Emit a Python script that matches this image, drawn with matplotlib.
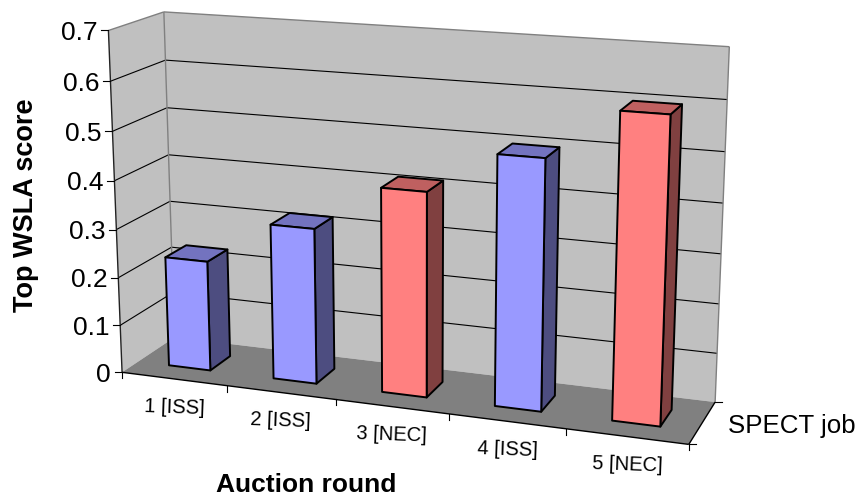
import numpy as np
import matplotlib
matplotlib.use("Agg")
import matplotlib.pyplot as plt
from matplotlib.patches import Polygon

plt.rcParams['font.family'] = ['Liberation Sans', 'DejaVu Sans']

rounds = ['1 [ISS]', '2 [ISS]', '3 [NEC]', '4 [ISS]', '5 [NEC]']
scores = [0.23, 0.32, 0.415, 0.50, 0.60]
owners = ['ISS', 'ISS', 'NEC', 'ISS', 'NEC']
yticks = [0, 0.1, 0.2, 0.3, 0.4, 0.5, 0.6, 0.7]
ytick_labels = ['0', '0.1', '0.2', '0.3', '0.4', '0.5', '0.6', '0.7']

# front, top, side shades for each owner
shades = {'ISS': ('#9999FF', '#7373BF', '#4D4D80'),
          'NEC': ('#FF8080', '#BF6060', '#804040')}

YMAX = 0.7
N = len(rounds)

# box corners on the canvas, used to solve the projection: (round, value, depth) -> (px, py)
anchors = [((0, 0, 0), (122.5, 372.3)),
           ((0, YMAX, 0), (108.3, 30.7)),
           ((0, YMAX, 1), (164.0, 11.7)),
           ((N, YMAX, 1), (729.3, 46.7)),
           ((N, 0, 1), (715.0, 402.3)),
           ((N, 0, 0), (689.0, 444.0)),
           ((1, 0, 0), (226.0, 385.7)),
           ((2, 0, 0), (335.7, 399.3)),
           ((3, 0, 0), (449.3, 414.0)),
           ((4, 0, 0), (566.0, 429.0))]


def solve_projection(points):
    rows = []
    for (x, v, d), (u, w) in points:
        h = [x, v / YMAX, d, 1]
        rows.append(h + [0, 0, 0, 0] + [-u * c for c in h])
        rows.append([0, 0, 0, 0] + h + [-w * c for c in h])
    _, _, vt = np.linalg.svd(np.array(rows))
    return vt[-1].reshape(3, 4)


P = solve_projection(anchors)


def proj(x, v, d):
    q = P @ np.array([x, v / YMAX, d, 1])
    return q[0] / q[2], q[1] / q[2]


fig = plt.figure(figsize=(8.58, 4.98), dpi=100)
ax = fig.add_axes([0, 0, 1, 1])
ax.set_xlim(0, 858)
ax.set_ylim(498, 0)
ax.axis('off')


def face(pts, color, edge='none', lw=0, z=1):
    ax.add_patch(Polygon([proj(*p) for p in pts], closed=True, facecolor=color,
                         edgecolor=edge, linewidth=lw, joinstyle='round', zorder=z))


def line(a, b, color='black', lw=0.8, z=2):
    pa, pb = proj(*a), proj(*b)
    ax.plot([pa[0], pb[0]], [pa[1], pb[1]], color=color, lw=lw, zorder=z,
            solid_capstyle='butt')


# walls and floor
face([(0, 0, 0), (0, YMAX, 0), (0, YMAX, 1), (0, 0, 1)], '#C0C0C0')
face([(0, 0, 1), (0, YMAX, 1), (N, YMAX, 1), (N, 0, 1)], '#C0C0C0')
face([(0, 0, 0), (N, 0, 0), (N, 0, 1), (0, 0, 1)], '#808080')

# gridlines run along the side wall and the back wall
for t in yticks[1:-1]:
    line((0, t, 0), (0, t, 1))
    line((0, t, 1), (N, t, 1))

# wall outlines
line((0, YMAX, 0), (0, YMAX, 1), '#808080', 1.0)
line((0, YMAX, 1), (N, YMAX, 1), '#808080', 1.0)
line((0, YMAX, 1), (0, 0, 1), '#808080', 1.0)
line((N, YMAX, 1), (N, 0, 1), '#808080', 1.0)

# axes in front of the box
line((0, 0, 0), (0, YMAX, 0), '#222222', 1.0, 3)
line((0, 0, 0), (N, 0, 0), 'black', 1.0, 3)
line((N, 0, 0), (N, 0, 1), 'black', 1.0, 3)

for t, lab in zip(yticks, ytick_labels):
    px, py = proj(0, t, 0)
    ax.plot([px - 7, px], [py, py], color='black', lw=0.8, zorder=3)
    ax.text(px - 11, py + 9.6, lab, ha='right', va='baseline', fontsize=19, color='black')

for i in range(N + 1):
    px, py = proj(i, 0, 0)
    ax.plot([px, px], [py, py + 6], color='black', lw=0.8, zorder=3)

for i, lab in enumerate(rounds):
    px, py = proj(i + 0.5, 0, 0)
    ax.text(px, py + 34, lab, ha='center', va='baseline', fontsize=14.5,
            rotation=-2, rotation_mode='anchor', color='black')

for d in (0, 1):
    px, py = proj(N, 0, d)
    ax.plot([px, px + 7], [py, py], color='black', lw=0.8, zorder=3)

# bars, left to right so nearer faces overlap correctly
gap = 0.3
for i, (score, owner) in enumerate(zip(scores, owners)):
    front, top, side = shades[owner]
    x0, x1 = i + gap, i + 1 - gap
    d0, d1 = gap, 1 - gap
    z = 5 + i
    face([(x1, 0, d0), (x1, score, d0), (x1, score, d1), (x1, 0, d1)], side, 'black', 1.4, z)
    face([(x0, score, d0), (x1, score, d0), (x1, score, d1), (x0, score, d1)], top, 'black', 1.4, z)
    face([(x0, 0, d0), (x1, 0, d0), (x1, score, d0), (x0, score, d0)], front, 'black', 1.4, z)

ax.text(728, 433, 'SPECT job', ha='left', va='baseline', fontsize=18.6, color='black')
ax.text(306.5, 492, 'Auction round', ha='center', va='baseline', fontsize=19,
        fontweight='bold', color='black')
ax.text(33, 205, 'Top WSLA score', ha='center', va='baseline', fontsize=19.5,
        fontweight='bold', rotation=90, rotation_mode='anchor', color='black')

fig.savefig('out.png', dpi=100)
